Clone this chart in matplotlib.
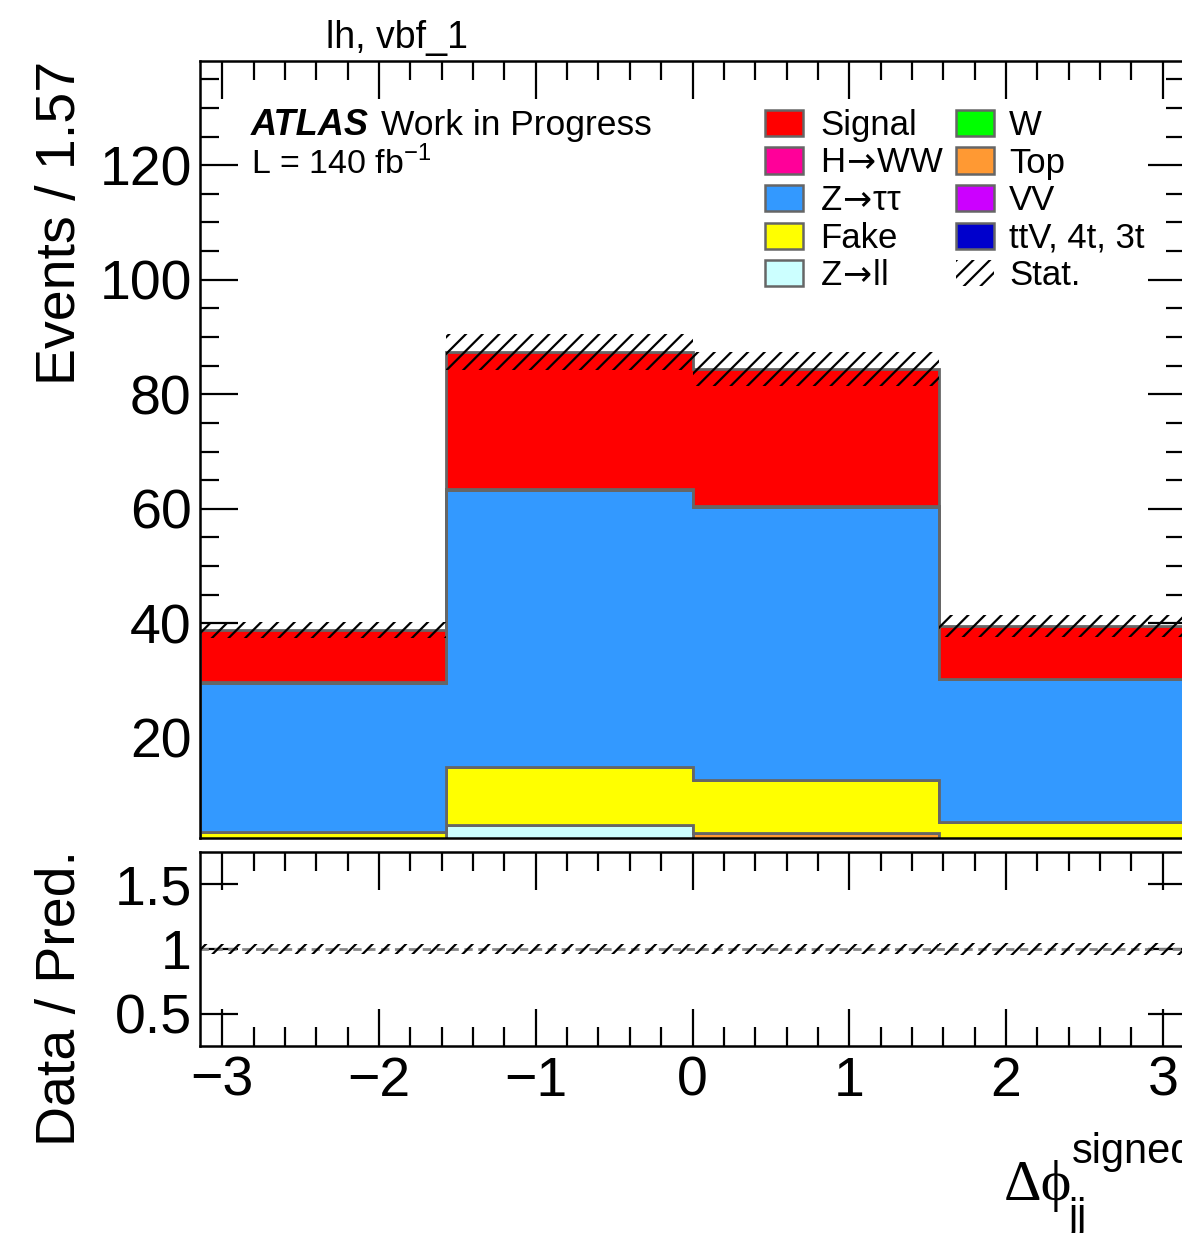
import numpy as np
import matplotlib
matplotlib.use("Agg")
from matplotlib import pyplot as plt
from matplotlib.patches import Rectangle
from matplotlib.ticker import MultipleLocator, FixedLocator, NullLocator

plt.rcParams['font.family'] = ['Liberation Sans', 'DejaVu Sans']
plt.rcParams['mathtext.fontset'] = 'dejavusans'
plt.rcParams['hatch.linewidth'] = 1.6
plt.rcParams['axes.unicode_minus'] = True

W_PX, H_PX = 1182, 1233

# Binning: 4 bins over [-pi, pi]
edges = np.linspace(-np.pi, np.pi, 5)

# Stacked components, bottom to top
ARROW = "$\\!\\rightarrow\\!$"
names = ["ttV, 4t, 3t", "VV", "Top", "W", "Z" + ARROW + "ll", "Fake",
         "Z" + ARROW + "\u03c4\u03c4", "H" + ARROW + "WW", "Signal"]
ttv = [0.2, 0.3, 0.3, 0.2]
vv = [0.4, 0.5, 0.5, 0.4]
top = [0.9, 1.0, 2.5, 0.8]
wjets = [0.3, 0.3, 0.0, 0.3]
zll = [0.5, 2.6, 0.0, 0.5]
fake = [1.25, 10.2, 9.3, 3.1]
ztt = [26.05, 48.4, 47.7, 24.9]
hww = [0.1, 0.1, 0.1, 0.1]
signal = [9.1, 23.9, 24.0, 9.2]
stat_err = [1.4, 3.15, 2.95, 1.9]

colors = ["#0000cc", "#cc00ff", "#ff9933", "#00ff00", "#ccffff",
          "#ffff00", "#3399ff", "#ff0099", "#ff0000"]
EDGE = "#666666"

components = [ttv, vv, top, wjets, zll, fake, ztt, hww, signal]


def fx(px):
    return px / W_PX


def fy(py):
    return 1 - py / H_PX


fig = plt.figure(figsize=(W_PX / 100, H_PX / 100), dpi=100)

# main pad: x 200..1185 px, y 61..838 px
ax = fig.add_axes([fx(200), fy(838), fx(1185) - fx(200), fy(61) - fy(838)])
# ratio pad: y 852..1046 px
rax = fig.add_axes([fx(200), fy(1046), fx(1185) - fx(200), fy(852) - fy(1046)])

# Stack
base = np.zeros(4)
for vals, c in zip(components, colors):
    upper = base + np.array(vals)
    ax.stairs(upper, edges, baseline=base, fill=True, facecolor=c,
              edgecolor=EDGE, linewidth=2.0, zorder=2)
    base = upper
total = base
err = np.array(stat_err)

# Stat band
ax.fill_between(edges, np.append(total - err, (total - err)[-1]),
                np.append(total + err, (total + err)[-1]), step='post',
                facecolor='none', edgecolor='black', hatch='//', linewidth=0, zorder=3)

# Ratio pad
rel = err / total
rax.fill_between(edges, np.append(1 - rel, (1 - rel)[-1]), np.append(1 + rel, (1 + rel)[-1]),
                 step='post', facecolor='none', edgecolor='black', hatch='//', linewidth=0, zorder=3)
rax.axhline(1.0, color='#888888', linestyle=(0, (3, 2)), linewidth=2.0, zorder=2)

ax.set_xlim(-np.pi, np.pi)
ax.set_ylim(2.5, 138.2)
rax.set_xlim(-np.pi, np.pi)
rax.set_ylim(0.25, 1.75)

for a in (ax, rax):
    a.xaxis.set_major_locator(MultipleLocator(1))
    a.xaxis.set_minor_locator(MultipleLocator(0.2))
    a.tick_params(which='both', direction='in', top=True, right=True, width=1.6, colors='black')
    a.tick_params(which='major', length=27)
    a.tick_params(which='minor', length=13.5)
    for s in a.spines.values():
        s.set_linewidth(1.8)
        s.set_zorder(5)

ax.yaxis.set_major_locator(MultipleLocator(20))
ax.yaxis.set_minor_locator(MultipleLocator(5))
ax.tick_params(axis='x', labelbottom=False)
ax.tick_params(axis='y', labelsize=40, pad=6)

rax.yaxis.set_major_locator(FixedLocator([0.5, 1.0, 1.5]))
rax.yaxis.set_minor_locator(NullLocator())
rax.set_yticklabels(["0.5", "1", "1.5"])
rax.tick_params(axis='y', labelsize=40, pad=6)
rax.tick_params(axis='x', labelsize=40, pad=7)
rax.set_xticks([-3, -2, -1, 0, 1, 2, 3])
rax.set_xticklabels(["\u22123", "\u22122", "\u22121", "0", "1", "2", "3"])

# Axis titles
fig.text(fx(61), fy(61), "Events / 1.57", rotation=90, ha='center', va='top', fontsize=40)
fig.text(fx(61), fy(850), "Data / Pred.", rotation=90, ha='center', va='top', fontsize=40)

fig.text(fx(1004), fy(1200), "\u0394\u03d5", family=['Liberation Serif', 'DejaVu Serif'],
         fontsize=42, ha='left', va='baseline')
fig.text(fx(1072), fy(1163), "signed", fontsize=30, ha='left', va='baseline')
fig.text(fx(1068), fy(1228), "jj", fontsize=30, ha='left', va='baseline')

# Labels
fig.text(fx(326), fy(48), "lh, vbf_1", fontsize=27, ha='left', va='baseline')
fig.text(fx(251), fy(135), "ATLAS", fontsize=26, fontweight='bold', fontstyle='italic',
         ha='left', va='baseline')
fig.text(fx(381), fy(135), "Work in Progress", fontsize=25.5, ha='left', va='baseline')
fig.text(fx(251), fy(174), "L = 140 fb$^{\\mathregular{-1}}$", fontsize=24.5, ha='left', va='baseline')

# Legend (manual, ROOT-style two columns)
col1 = ["Signal", names[7], names[6], "Fake", names[4]]
col2 = ["W", "Top", "VV", "ttV, 4t, 3t"]
cmap = dict(zip(names, colors))
row_y = [123, 160.5, 198, 235.5, 273]
for (bx, tx), labels in (((765, 820), col1), ((956, 1009), col2)):
    for lab, yc in zip(labels, row_y):
        fig.add_artist(Rectangle((fx(bx), fy(yc + 13)), fx(38), 26 / H_PX,
                                 transform=fig.transFigure, facecolor=cmap[lab],
                                 edgecolor=EDGE, linewidth=1.8))
        fig.text(fx(tx), fy(yc + 12), lab, fontsize=25, ha='left', va='baseline')
fig.add_artist(Rectangle((fx(956), fy(273 + 13)), fx(38), 26 / H_PX,
                         transform=fig.transFigure, facecolor='none', edgecolor='black',
                         hatch='//', linewidth=0))
fig.text(fx(1009), fy(273 + 12), "Stat.", fontsize=25, ha='left', va='baseline')

fig.savefig("out.png", dpi=100)
